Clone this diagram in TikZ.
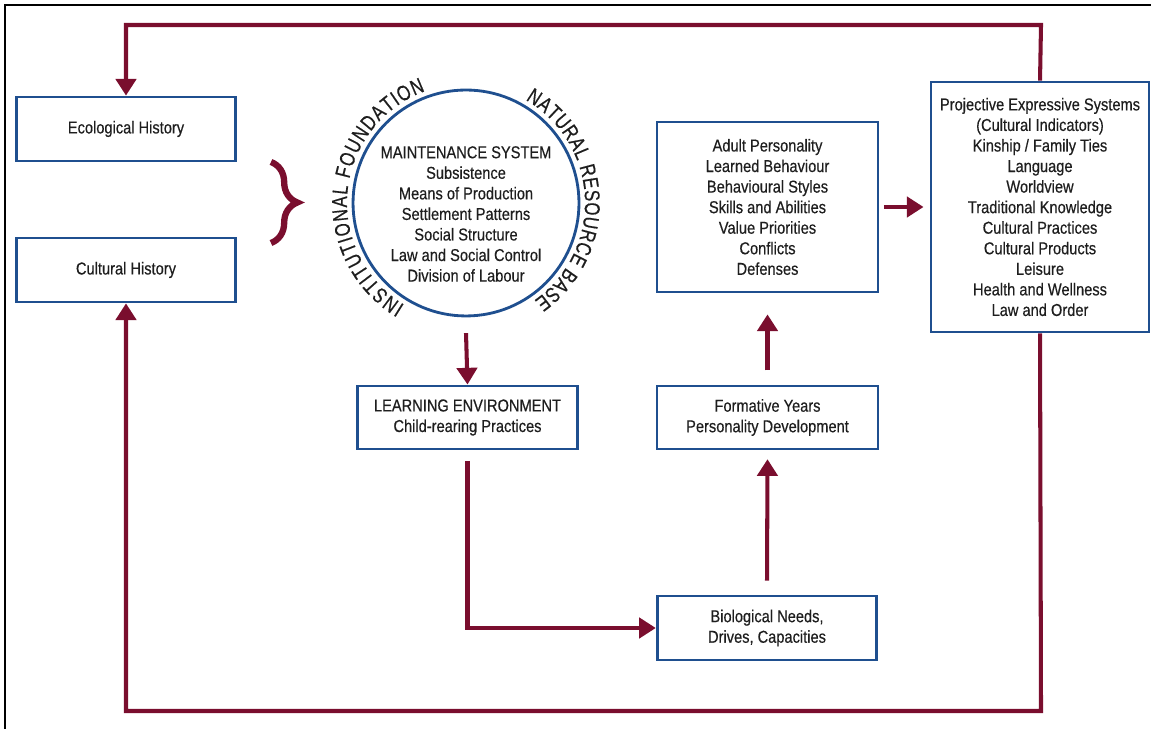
\documentclass[tikz,border=0pt]{standalone}
\usepackage{fontspec}
\setmainfont{Liberation Sans}[FakeStretch=0.85,FakeBold=0.4]
\newfontfamily\curvefam{Liberation Sans}[FakeStretch=0.78,FakeBold=0.5]
\usetikzlibrary{arrows.meta,decorations.pathreplacing,decorations.text}
\definecolor{maroon}{HTML}{7A0E2E}
\definecolor{boxblue}{HTML}{1F4F8F}
\definecolor{inkgray}{HTML}{1E1E1E}
\newcommand{\boxfont}{\fontsize{9.8}{11.7}\selectfont}
\newcommand{\curvefont}{\curvefam\fontsize{12.2}{14}\selectfont}
\tikzset{
	box/.style={draw=boxblue,line width=1.6pt,fill=white,align=center,text=inkgray,font=\boxfont,minimum width=125pt,inner sep=0pt},
	flow/.style={draw=maroon,line width=2.3pt,-{Triangle[length=9.5pt,width=11.5pt]}},
	loop/.style={draw=maroon,line width=2.3pt}
}
\begin{document}
\begin{tikzpicture}[x=0.02cm,y=0.02cm]
	\useasboundingbox (0,0) rectangle (1151,729);
	% Frame
	\draw[black,line width=0.6pt] (5,0) -- (5,724) -- (1151,724);
	% History boxes
	\node[box,minimum height=36.4pt] (eco) at (126,600) {Ecological History};
	\node[box,minimum height=36.4pt] (cult) at (126,459) {Cultural History};
	\draw[maroon,line width=3.6pt,decorate,decoration={brace,amplitude=15pt}] (271,567) -- (271,486);
	% Maintenance system
	\node[draw=boxblue,line width=1.6pt,circle,minimum size=128.6pt,inner sep=0pt] (maint) at (466,526) {};
	\node[align=center,text=inkgray,font=\boxfont] (mainttxt) at (466,515) {MAINTENANCE SYSTEM\\Subsistence\\Means of Production\\Settlement Patterns\\Social Structure\\Law and Social Control\\Division of Labour};
	\path[decorate,decoration={text along path,text align=fit to path,text color=inkgray,text={|\curvefont|INSTITUTIONAL FOUNDATION}}]
		(466,526) ++(239:119) arc[start angle=239,end angle=110,radius=119];
	\path[decorate,decoration={text along path,text align=fit to path,text color=inkgray,text={|\curvefont|NATURAL RESOURCE BASE}}]
		(466,526) ++(60:119) arc[start angle=60,end angle=-55,radius=119];
	% Middle column
	\node[box,minimum height=35.9pt] (learn) at (467.5,311.5) {LEARNING ENVIRONMENT\\Child-rearing Practices};
	\node[box,minimum height=36.4pt] (bio) at (767,101) {Biological Needs,\\Drives, Capacities};
	\node[box,minimum height=35.9pt,minimum width=125.8pt] (form) at (767.5,311.5) {Formative Years\\Personality Development};
	\node[box,minimum height=96.7pt,minimum width=125.8pt] (adult) at (767.5,522) {Adult Personality\\Learned Behaviour\\Behavioural Styles\\Skills and Abilities\\Value Priorities\\Conflicts\\Defenses};
	% Cultural indicators
	\node[box,minimum height=142.3pt,minimum width=124pt] (ind) at (1040,522) {Projective Expressive Systems\\(Cultural Indicators)\\Kinship / Family Ties\\Language\\Worldview\\Traditional Knowledge\\Cultural Practices\\Cultural Products\\Leisure\\Health and Wellness\\Law and Order};
	% Arrows
	\draw[flow] ([yshift=-9pt]maint.south) -- (learn.north);
	\draw[flow] ([yshift=-6pt]learn.south) |- (bio.west);
	\draw[flow] ([yshift=8pt]bio.north) -- ([yshift=-5pt]form.south);
	\draw[flow] ([yshift=8pt]form.north) -- ([yshift=-12pt]adult.south);
	\draw[flow] ([xshift=2.5pt]adult.east) -- ([xshift=-3.5pt]ind.west);
	% Feedback loops
	\coordinate (topturn) at (1041,704);
	\coordinate (botturn) at (1041,18);
	\draw[flow] (ind.north) -- (topturn) -| (eco.north);
	\draw[flow] (ind.south) -- (botturn) -| (cult.south);
\end{tikzpicture}
\end{document}
